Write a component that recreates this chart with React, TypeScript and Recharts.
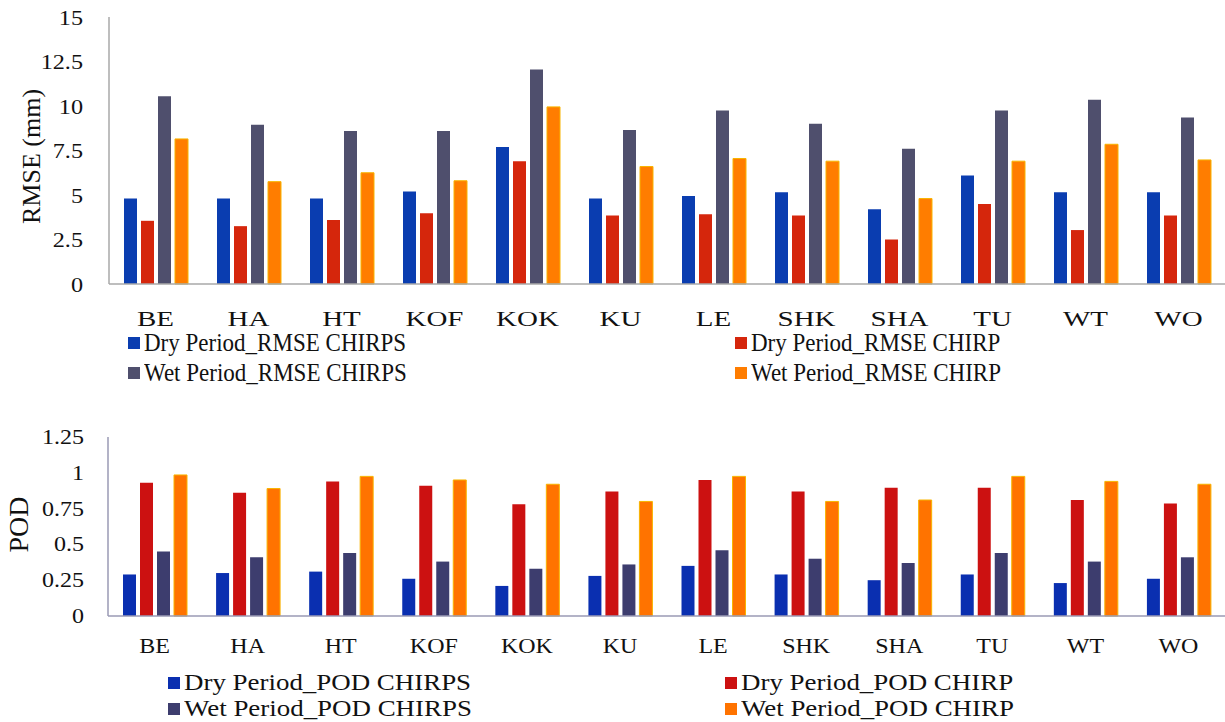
// Two stacked grouped-bar panels: RMSE (mm) and POD per station,
// dry vs wet period, CHIRPS vs CHIRP.
import { BarChart, Bar, XAxis, YAxis } from 'recharts';

const stations = ['BE', 'HA', 'HT', 'KOF', 'KOK', 'KU', 'LE', 'SHK', 'SHA', 'TU', 'WT', 'WO'];

const rmseDryChirps = [4.8, 4.8, 4.8, 5.2, 7.7, 4.8, 4.95, 5.15, 4.2, 6.1, 5.15, 5.15];
const rmseDryChirp = [3.55, 3.25, 3.6, 3.97, 6.9, 3.85, 3.92, 3.85, 2.5, 4.5, 3.03, 3.85];
const rmseWetChirps = [10.55, 8.95, 8.6, 8.6, 12.05, 8.65, 9.75, 9.0, 7.6, 9.75, 10.35, 9.35];
const rmseWetChirp = [8.15, 5.75, 6.25, 5.8, 9.95, 6.6, 7.05, 6.9, 4.8, 6.9, 7.85, 6.97];

const podDryChirps = [0.29, 0.3, 0.31, 0.26, 0.21, 0.28, 0.35, 0.29, 0.25, 0.29, 0.23, 0.26];
const podDryChirp = [0.93, 0.86, 0.94, 0.91, 0.78, 0.87, 0.95, 0.87, 0.895, 0.895, 0.81, 0.785];
const podWetChirps = [0.45, 0.41, 0.44, 0.38, 0.33, 0.36, 0.46, 0.4, 0.37, 0.44, 0.38, 0.41];
const podWetChirp = [0.985, 0.89, 0.975, 0.95, 0.92, 0.8, 0.975, 0.8, 0.81, 0.975, 0.94, 0.92];

const rmseTicks = [0, 2.5, 5, 7.5, 10, 12.5, 15];
const podTicks = [0, 0.25, 0.5, 0.75, 1, 1.25];

const FONT = 'Liberation Serif, Tinos, DejaVu Serif, serif';

const rmseData = stations.map((s, i) => ({
  station: s,
  dryChirps: rmseDryChirps[i],
  dryChirp: rmseDryChirp[i],
  wetChirps: rmseWetChirps[i],
  wetChirp: rmseWetChirp[i],
}));

const podData = stations.map((s, i) => ({
  station: s,
  dryChirps: podDryChirps[i],
  dryChirp: podDryChirp[i],
  wetChirps: podWetChirps[i],
  wetChirp: podWetChirp[i],
}));

const TOP_COLORS = { dryChirps: '#0a3db0', dryChirp: '#d5260c', wetChirps: '#4f4f6d', wetChirp: '#ff7d00' };
const BOT_COLORS = { dryChirps: '#0a2fb0', dryChirp: '#cc1111', wetChirps: '#3d3d6e', wetChirp: '#ff7300' };

// the source picture has horizontally stretched lettering, so ticks get a scaleX
function XTick({ x, y, payload, fontSize, sx, dy }: any) {
  return (
    <text
      transform={`translate(${x},${y + dy}) scale(${sx},1)`}
      textAnchor="middle"
      style={{ fontFamily: FONT }}
      fontSize={fontSize}
      fill="#111"
    >
      {payload.value}
    </text>
  );
}

function YTick({ x, y, payload, fontSize, sx, gap }: any) {
  return (
    <text
      transform={`translate(${x - gap},${y}) scale(${sx},1)`}
      textAnchor="end"
      dy="0.35em"
      style={{ fontFamily: FONT }}
      fontSize={fontSize}
      fill="#111"
    >
      {payload.value}
    </text>
  );
}

function AxisTitle({ viewBox, value, fontSize, cx, shift }: any) {
  const y = viewBox.y + viewBox.height / 2 + shift;
  return (
    <text
      transform={`translate(${cx},${y}) rotate(-90)`}
      textAnchor="middle"
      dy="0.35em"
      style={{ fontFamily: FONT }}
      fontSize={fontSize}
      fill="#111"
    >
      {value}
    </text>
  );
}

function LegendItem({ left, top, color, label, fontSize, sx }: any) {
  return (
    <div
      style={{
        position: 'absolute',
        left,
        top,
        height: 28,
        display: 'flex',
        alignItems: 'center',
        whiteSpace: 'nowrap',
        fontFamily: FONT,
        fontSize,
        color: '#111',
      }}
    >
      <span style={{ width: 12, height: 12, background: color, marginRight: 4, flex: 'none' }} />
      <span style={{ display: 'inline-block', transform: `scaleX(${sx})`, transformOrigin: 'left center' }}>
        {label}
      </span>
    </div>
  );
}

export default function App() {
  return (
    <div style={{ position: 'absolute', left: 0, top: 0, width: 1225, height: 722, background: '#fff', fontFamily: FONT }}>
      <div style={{ position: 'absolute', left: 0, top: 0 }}>
        <BarChart
          width={1225}
          height={340}
          data={rmseData}
          margin={{ top: 17, right: 0, bottom: 0, left: 0 }}
          barCategoryGap={15}
          barGap={4}
        >
          <XAxis
            dataKey="station"
            height={56}
            axisLine={{ stroke: '#a8a8a8', strokeWidth: 1.5 }}
            tickLine={false}
            tickSize={0}
            tickMargin={0}
            interval={0}
            tick={<XTick fontSize={21} sx={1.38} dy={42} />}
          />
          <YAxis
            width={109}
            domain={[0, 15]}
            ticks={rmseTicks}
            axisLine={{ stroke: '#a8a8a8', strokeWidth: 1.5 }}
            tickLine={false}
            tickSize={0}
            tickMargin={0}
            interval={0}
            tick={<YTick fontSize={22} sx={1.1} gap={26} />}
            label={<AxisTitle value="RMSE (mm)" fontSize={26} cx={31} shift={6} />}
          />
          <Bar dataKey="dryChirps" fill={TOP_COLORS.dryChirps} isAnimationActive={false} />
          <Bar dataKey="dryChirp" fill={TOP_COLORS.dryChirp} isAnimationActive={false} />
          <Bar dataKey="wetChirps" fill={TOP_COLORS.wetChirps} isAnimationActive={false} />
          <Bar dataKey="wetChirp" fill={TOP_COLORS.wetChirp} stroke="#f8b400" strokeWidth={1} isAnimationActive={false} />
        </BarChart>
      </div>

      <LegendItem left={128} top={329} color={TOP_COLORS.dryChirps} label="Dry Period_RMSE CHIRPS" fontSize={26} sx={0.885} />
      <LegendItem left={128} top={359} color={TOP_COLORS.wetChirps} label="Wet Period_RMSE CHIRPS" fontSize={26} sx={0.885} />
      <LegendItem left={735} top={329} color={TOP_COLORS.dryChirp} label="Dry Period_RMSE CHIRP" fontSize={26} sx={0.885} />
      <LegendItem left={735} top={359} color={TOP_COLORS.wetChirp} label="Wet Period_RMSE CHIRP" fontSize={26} sx={0.885} />

      <div style={{ position: 'absolute', left: 0, top: 400 }}>
        <BarChart
          width={1225}
          height={270}
          data={podData}
          margin={{ top: 37, right: 0, bottom: 0, left: 0 }}
          barCategoryGap={15}
          barGap={4}
        >
          <XAxis
            dataKey="station"
            height={54}
            axisLine={{ stroke: '#9a9ab4', strokeWidth: 1.5 }}
            tickLine={false}
            tickSize={0}
            tickMargin={0}
            interval={0}
            tick={<XTick fontSize={20} sx={1.2} dy={37} />}
          />
          <YAxis
            width={108}
            domain={[0, 1.25]}
            ticks={podTicks}
            axisLine={{ stroke: '#9a9ab4', strokeWidth: 1.5 }}
            tickLine={false}
            tickSize={0}
            tickMargin={0}
            interval={0}
            tick={<YTick fontSize={20} sx={1.2} gap={24} />}
            label={<AxisTitle value="POD" fontSize={28} cx={18} shift={-2} />}
          />
          <Bar dataKey="dryChirps" fill={BOT_COLORS.dryChirps} isAnimationActive={false} />
          <Bar dataKey="dryChirp" fill={BOT_COLORS.dryChirp} isAnimationActive={false} />
          <Bar dataKey="wetChirps" fill={BOT_COLORS.wetChirps} isAnimationActive={false} />
          <Bar dataKey="wetChirp" fill={BOT_COLORS.wetChirp} stroke="#f8b400" strokeWidth={1} isAnimationActive={false} />
        </BarChart>
      </div>

      <LegendItem left={168} top={669} color={BOT_COLORS.dryChirps} label="Dry Period_POD CHIRPS" fontSize={23} sx={1.17} />
      <LegendItem left={168} top={695} color={BOT_COLORS.wetChirps} label="Wet Period_POD CHIRPS" fontSize={23} sx={1.17} />
      <LegendItem left={725} top={669} color={BOT_COLORS.dryChirp} label="Dry Period_POD CHIRP" fontSize={23} sx={1.17} />
      <LegendItem left={725} top={695} color={BOT_COLORS.wetChirp} label="Wet Period_POD CHIRP" fontSize={23} sx={1.17} />
    </div>
  );
}
